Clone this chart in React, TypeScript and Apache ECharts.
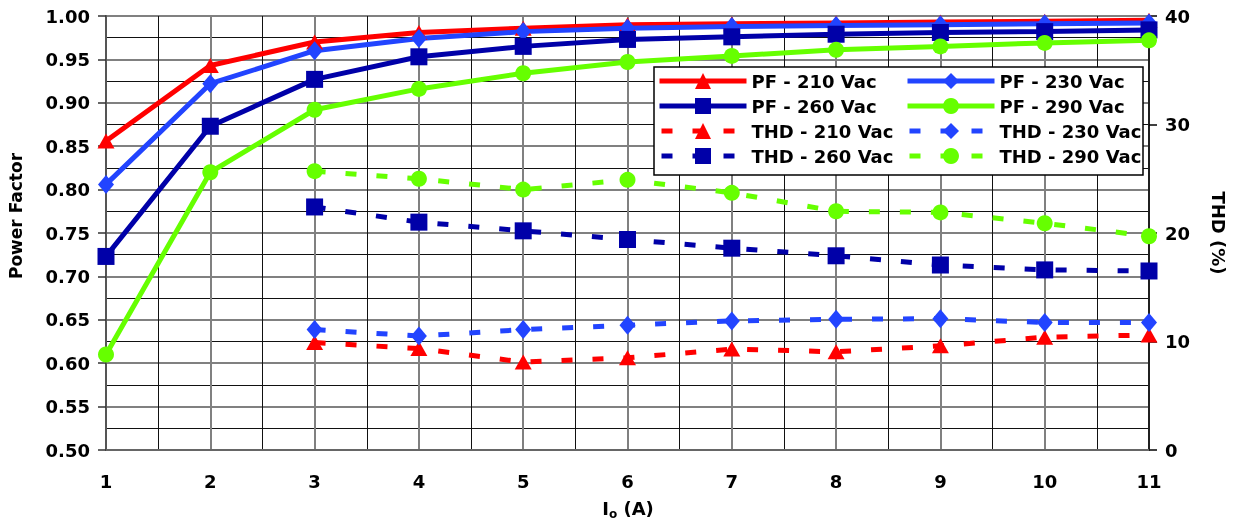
import React, { useEffect, useRef } from "react";
import * as echarts from "echarts";

const xValues = [1, 2, 3, 4, 5, 6, 7, 8, 9, 10, 11];
const thdX = [3, 4, 5, 6, 7, 8, 9, 10, 11];

const pf210 = [0.856, 0.943, 0.970, 0.981, 0.986, 0.990, 0.991, 0.992, 0.993, 0.994, 0.995];
const pf230 = [0.806, 0.922, 0.960, 0.974, 0.982, 0.986, 0.988, 0.989, 0.990, 0.991, 0.992];
const pf260 = [0.723, 0.873, 0.927, 0.953, 0.965, 0.973, 0.976, 0.979, 0.981, 0.982, 0.984];
const pf290 = [0.610, 0.820, 0.892, 0.916, 0.934, 0.947, 0.954, 0.961, 0.965, 0.969, 0.972];

const thd210 = [9.9, 9.35, 8.1, 8.5, 9.3, 9.05, 9.6, 10.4, 10.6];
const thd230 = [11.1, 10.5, 11.1, 11.5, 11.9, 12.05, 12.1, 11.75, 11.75];
const thd260 = [22.4, 21.0, 20.2, 19.4, 18.6, 17.9, 17.05, 16.6, 16.5];
const thd290 = [25.7, 25.0, 24.0, 24.9, 23.7, 22.0, 21.9, 20.9, 19.7];

const names = {
  pf210: "PF - 210 Vac",
  pf230: "PF - 230 Vac",
  pf260: "PF - 260 Vac",
  pf290: "PF - 290 Vac",
  thd210: "THD - 210 Vac",
  thd230: "THD - 230 Vac",
  thd260: "THD - 260 Vac",
  thd290: "THD - 290 Vac",
};

const RED = "#ff0000";
const BLUE = "#2244ff";
const NAVY = "#0000a8";
const GREEN = "#66ff00";
const FONT = "DejaVu Sans";
const DASH = [11, 20];

export default function App() {
  const ref = useRef<HTMLDivElement>(null);
  useEffect(() => {
    const chart = echarts.init(ref.current!, null, { renderer: "svg" });
    const pair = (xs: number[], ys: number[]) => xs.map((x, i) => [x, ys[i]]);
    const mk = (
      name: string,
      color: string,
      symbol: string,
      symbolSize: any,
      data: number[][],
      yAxisIndex: number,
      dashed: boolean
    ) => ({
      name,
      type: "line",
      data,
      yAxisIndex,
      symbol,
      symbolSize,
      clip: false,
      lineStyle: { color, width: 5, type: dashed ? DASH : "solid", cap: "butt" },
      itemStyle: { color },
      emphasis: { disabled: true },
    });
    const legItem = (name: string, color: string, dashed: boolean) => ({
      name,
      lineStyle: { color, width: 5, type: dashed ? DASH : "solid", dashOffset: dashed ? -2 : 0 },
    });
    const legendText = {
      fontFamily: FONT,
      fontWeight: "bold",
      fontSize: 18,
      color: "#000",
      lineHeight: 20,
    };
    const labelText = {
      fontFamily: FONT,
      fontWeight: "bold",
      fontSize: 18,
      color: "#000",
    };
    chart.setOption({
      animation: false,
      grid: { left: 106, right: 89, top: 16, bottom: 71 },
      xAxis: {
        type: "value",
        min: 1,
        max: 11,
        interval: 1,
        axisLine: { show: true, lineStyle: { color: "#666", width: 2 } },
        axisTick: { show: false },
        axisLabel: { ...labelText, margin: 22 },
        splitLine: { show: true, lineStyle: { color: "#808080", width: 2 } },
        minorTick: { show: false, splitNumber: 2 },
        minorSplitLine: { show: true, lineStyle: { color: "#111", width: 1 } },
      },
      yAxis: [
        {
          type: "value",
          min: 0.5,
          max: 1,
          interval: 0.05,
          axisLine: { show: true, lineStyle: { color: "#555", width: 2 } },
          axisTick: { show: true, length: 8, lineStyle: { color: "#333", width: 1.5 } },
          axisLabel: {
            ...labelText,
            margin: 16,
            formatter: (v: number) => v.toFixed(2),
          },
          splitLine: { show: true, lineStyle: { color: "#808080", width: 2 } },
          minorTick: { show: false, splitNumber: 2 },
          minorSplitLine: { show: true, lineStyle: { color: "#111", width: 1 } },
        },
        {
          type: "value",
          min: 0,
          max: 40,
          interval: 10,
          position: "right",
          axisLine: { show: true, lineStyle: { color: "#000", width: 1.5 } },
          axisTick: { show: true, length: 8, lineStyle: { color: "#000", width: 1.5 } },
          axisLabel: { ...labelText, margin: 16 },
          splitLine: { show: false },
        },
      ],
      legend: [
        {
          left: 657,
          top: 71,
          orient: "vertical",
          itemWidth: 87,
          itemHeight: 20,
          itemGap: 5,
          padding: 0,
          selectedMode: false,
          data: [
            legItem(names.pf210, RED, false),
            legItem(names.pf260, NAVY, false),
            legItem(names.thd210, RED, true),
            legItem(names.thd260, NAVY, true),
          ],
          textStyle: legendText,
        },
        {
          left: 905,
          top: 71,
          orient: "vertical",
          itemWidth: 87,
          itemHeight: 20,
          itemGap: 5,
          padding: 0,
          selectedMode: false,
          data: [
            legItem(names.pf230, BLUE, false),
            legItem(names.pf290, GREEN, false),
            legItem(names.thd230, BLUE, true),
            legItem(names.thd290, GREEN, true),
          ],
          textStyle: legendText,
        },
      ],
      graphic: [
        {
          type: "rect",
          z: 3,
          shape: { x: 654, y: 67, width: 489, height: 108 },
          style: { fill: "#fff", stroke: "#000", lineWidth: 1.5 },
        },
        {
          type: "text",
          x: 16,
          y: 216,
          rotation: Math.PI / 2,
          style: {
            text: "Power Factor",
            font: `bold 17px "${FONT}"`,
            fill: "#000",
            align: "center",
            verticalAlign: "middle",
          },
        },
        {
          type: "text",
          x: 1218,
          y: 233,
          rotation: -Math.PI / 2,
          style: {
            text: "THD (%)",
            font: `bold 18px "${FONT}"`,
            fill: "#000",
            align: "center",
            verticalAlign: "middle",
          },
        },
        {
          type: "text",
          x: 628,
          y: 508,
          style: {
            text: "{i|I}{s|o}{i| (A)}",
            align: "center",
            verticalAlign: "middle",
            rich: {
              i: { fontFamily: FONT, fontWeight: "bold", fontSize: 18, fill: "#000", lineHeight: 24, verticalAlign: "middle" },
              s: { fontFamily: FONT, fontWeight: "bold", fontSize: 12, fill: "#000", lineHeight: 24, verticalAlign: "bottom", padding: [8, 0, 0, 0] },
            },
          },
        },
      ],
      series: [
        mk(names.pf210, RED, "triangle", [17, 15], pair(xValues, pf210), 0, false),
        mk(names.pf230, BLUE, "diamond", [16, 19], pair(xValues, pf230), 0, false),
        mk(names.pf260, NAVY, "rect", 17, pair(xValues, pf260), 0, false),
        mk(names.pf290, GREEN, "circle", 16, pair(xValues, pf290), 0, false),
        mk(names.thd210, RED, "triangle", [17, 15], pair(thdX, thd210), 1, true),
        mk(names.thd230, BLUE, "diamond", [16, 19], pair(thdX, thd230), 1, true),
        mk(names.thd260, NAVY, "rect", 17, pair(thdX, thd260), 1, true),
        mk(names.thd290, GREEN, "circle", 16, pair(thdX, thd290), 1, true),
      ],
    });
    return () => chart.dispose();
  }, []);
  return (
    <div
      ref={ref}
      style={{ position: "fixed", left: 0, top: 0, width: 1238, height: 521 }}
    />
  );
}
